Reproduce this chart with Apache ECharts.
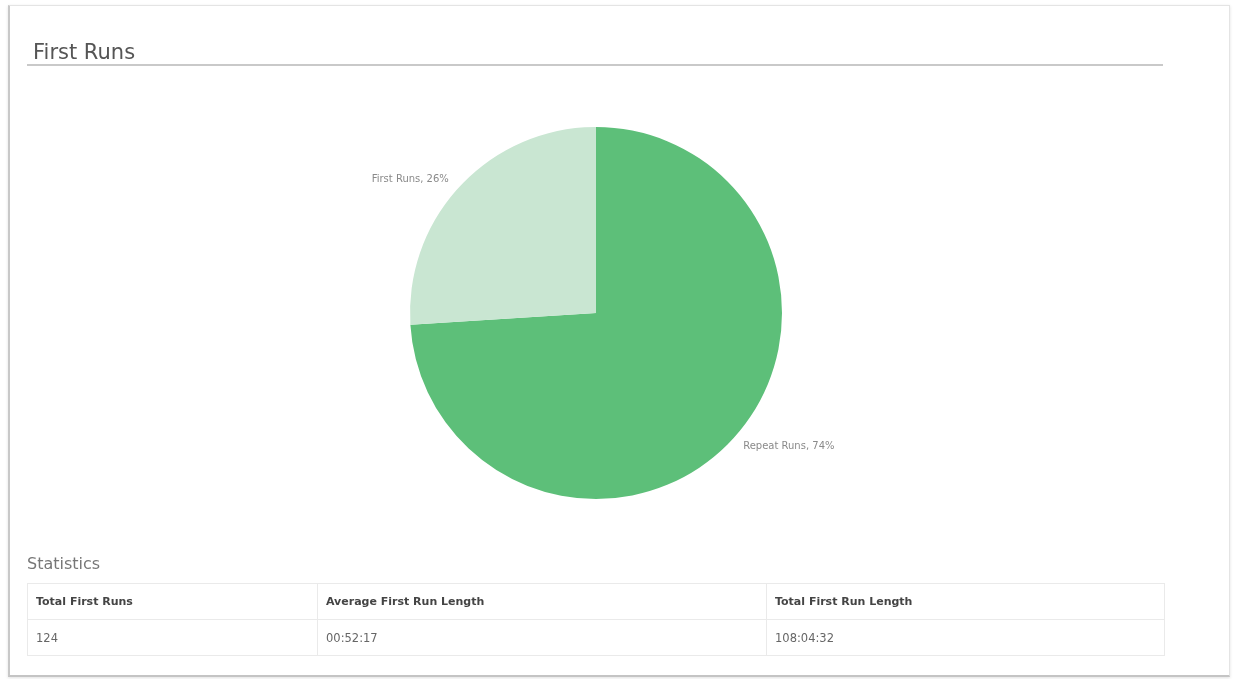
<!DOCTYPE html>
<html>
<head>
<meta charset="utf-8">
<script src="https://cdn.jsdelivr.net/npm/echarts@6/dist/echarts.min.js"></script>
<style>
  html, body { margin: 0; padding: 0; background: #fff; width: 1240px; height: 679px; overflow: hidden; font-family: "DejaVu Sans", Verdana, sans-serif; }
  .panel { position: absolute; left: 8px; top: 5px; width: 1219px; height: 669px; border: 1px solid #e4e4e4; border-left: 2px solid #c8c8c8; border-bottom: 2px solid #c4c4c4; box-shadow: 0 1px 3px rgba(0,0,0,0.12); background: #fff; }
  #chart { position: absolute; left: 0; top: 0; width: 1240px; height: 679px; }
  .title { position: absolute; left: 33px; top: 40px; font-size: 21px; color: #555; }
  .rule { position: absolute; left: 27px; top: 64px; width: 1136px; height: 0; border-top: 2px solid #c9c9c9; }
  .stats { position: absolute; left: 27px; top: 554px; font-size: 16px; color: #777; }
  table { position: absolute; left: 27px; top: 583px; width: 1137px; border-collapse: collapse; table-layout: fixed; }
  td, th { border: 1px solid #eaeaea; text-align: left; padding: 0 8px; height: 35px; }
  th { font-weight: bold; color: #444; font-size: 11px; }
  td { color: #666; font-size: 11.5px; }
</style>
</head>
<body>
<div class="panel"></div>
<div id="chart"></div>
<div class="title">First Runs</div>
<div class="rule"></div>
<div class="stats">Statistics</div>
<table id="stats"></table>
<script>
  // Share of runs by type (percent)
  const sliceNames = ['Repeat Runs', 'First Runs'];
  const sliceValues = [74, 26];
  const sliceColors = ['#5dbf79', '#c9e6d2'];

  // Summary table
  const statHeaders = ['Total First Runs', 'Average First Run Length', 'Total First Run Length'];
  const statValues = ['124', '00:52:17', '108:04:32'];
  const colWidths = [290, 449, 398];

  const table = document.getElementById('stats');
  const colgroup = document.createElement('colgroup');
  colWidths.forEach(w => {
    const col = document.createElement('col');
    col.style.width = w + 'px';
    colgroup.appendChild(col);
  });
  table.appendChild(colgroup);
  const head = document.createElement('tr');
  statHeaders.forEach(h => {
    const th = document.createElement('th');
    th.textContent = h;
    head.appendChild(th);
  });
  const row = document.createElement('tr');
  statValues.forEach(v => {
    const td = document.createElement('td');
    td.textContent = v;
    row.appendChild(td);
  });
  table.appendChild(head);
  table.appendChild(row);

  const chart = echarts.init(document.getElementById('chart'), null, { renderer: 'canvas' });
  chart.setOption({
    animation: false,
    series: [{
      type: 'pie',
      center: [596, 313],
      radius: 186,
      startAngle: 90,
      clockwise: true,
      avoidLabelOverlap: false,
      data: sliceNames.map((n, i) => ({ name: n, value: sliceValues[i], itemStyle: { color: sliceColors[i] } })),
      label: {
        show: true,
        position: 'outside',
        formatter: '{b}, {d}%',
        fontSize: 10,
        color: '#8a8a8a',
        fontFamily: 'DejaVu Sans'
      },
      labelLine: { show: false, length: 9, length2: 0 },
      emphasis: { disabled: true }
    }]
  });
</script>
</body>
</html>
